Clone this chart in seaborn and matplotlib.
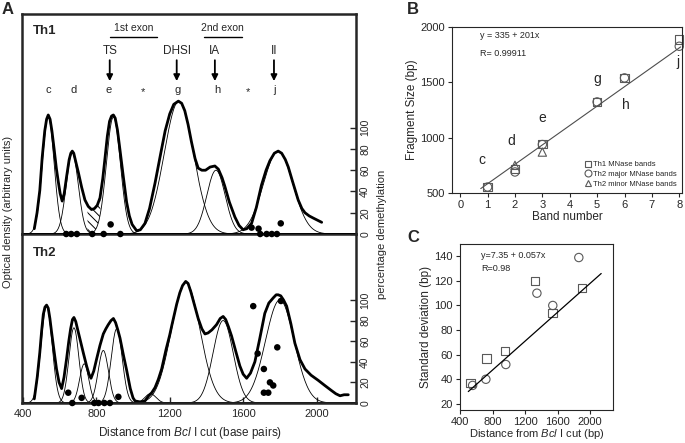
import numpy as np
import seaborn as sns
import matplotlib.pyplot as plt
from matplotlib.lines import Line2D

W, H = 685, 443

# ---------------- panel A: densitometry traces ----------------
th1_bp = [462, 477, 492, 505, 519, 529, 538, 548, 558, 570, 582, 592, 603, 614, 625, 638,
          652, 661, 669, 677, 688, 702, 720, 738, 756, 774, 790, 805, 820, 835, 847, 860,
          872, 883, 893, 903, 915, 929, 947, 965, 980, 995, 1020, 1040, 1065, 1090, 1120,
          1150, 1175, 1200, 1222, 1247, 1265, 1282, 1300, 1318, 1338, 1355, 1375, 1395,
          1420, 1446, 1465, 1485, 1500, 1525, 1555, 1578, 1600, 1620, 1646, 1672, 1700,
          1725, 1746, 1770, 1791, 1810, 1830, 1846, 1870, 1900, 1920, 1937, 1960, 1982,
          2005, 2028]
th1_od = [5, 20, 41, 72, 97, 108, 112, 108, 97, 80, 62, 50, 38, 31, 38, 54,
          70, 76, 78, 76, 68, 58, 44, 32, 26, 23, 24, 27, 34, 52, 71, 92,
          106, 111, 112, 109, 98, 79, 54, 30, 17, 9, 3, 4, 10, 24, 48,
          75, 97, 113, 122, 125, 123, 116, 103, 87, 71, 62, 60, 60,
          63, 64, 61, 53, 45, 30, 16, 8, 4, 5, 10, 25, 46,
          60, 69, 76, 78, 76, 70, 63, 49, 32, 24, 20, 17, 15,
          13, 11]

th2_bp = [462, 478, 492, 502, 511, 520, 529, 538, 547, 556, 570, 583, 597, 611, 624, 638,
          650, 660, 670, 678, 688, 700, 711, 730, 747, 760, 771, 786, 802, 820, 838, 852,
          865, 880, 893, 905, 917, 929, 947, 965, 985, 1000, 1011, 1040, 1065, 1085, 1102,
          1120, 1138, 1156, 1180, 1200, 1211, 1238, 1255, 1270, 1287, 1300, 1315, 1335,
          1355, 1375, 1392, 1409, 1430, 1455, 1475, 1491, 1505, 1520, 1537, 1560, 1582,
          1600, 1619, 1640, 1664, 1690, 1718, 1740, 1764, 1780, 1791, 1805, 1820, 1837,
          1860, 1882, 1910, 1937, 1970, 2009, 2045, 2082, 2105, 2128, 2150, 2173]
th2_od = [4, 25, 49, 70, 86, 93, 95, 92, 82, 69, 50, 33, 20, 14, 25, 43,
          60, 72, 81, 83, 79, 70, 62, 48, 36, 28, 24, 31, 43, 56, 67, 72,
          76, 80, 82, 78, 71, 63, 47, 32, 14, 5, 2, 1, 2, 7, 10,
          15, 23, 33, 52, 66, 75, 96, 107, 114, 118, 116, 108, 95,
          82, 72, 67, 68, 71, 76, 82, 84, 81, 74, 65, 50, 36,
          28, 24, 29, 40, 62, 87, 97, 102, 105, 105, 104, 100, 94,
          77, 58, 42, 33, 27, 22, 17, 12, 9, 7, 8, 8]

# fitted gaussian components: centre, height, standard deviation
th1_center = [538, 669, 893, 1250, 1452, 1791]
th1_height = [110, 76, 110, 125, 60, 78]
th1_sd = [32, 33, 38, 80, 50, 80]

th2_center = [529, 678, 734, 838, 911, 1095, 1287, 1491, 1800]
th2_height = [94, 73, 38, 51, 72, 9, 117, 80, 100]
th2_sd = [30, 27, 25, 28, 30, 30, 78, 55, 78]

# percentage demethylation dots
th1_dot_bp = [636, 663, 694, 778, 840, 878, 931, 1646, 1684, 1693, 1728, 1756, 1784, 1805]
th1_dot_pct = [0, 0, 0, 0, 0, 9, 0, 6, 5, 0, 0, 0, 0, 10]
th2_dot_bp = [647, 669, 720, 789, 812, 844, 874, 920, 1655, 1679, 1713, 1786, 1746,
              1764, 1713, 1737, 1806]
th2_dot_pct = [10, 0, 5, 0, 0, 0, 0, 6, 94, 48, 33, 54, 20, 17, 10, 10, 99]

band_letters = ["c", "d", "e", "*", "g", "h", "*", "j"]
band_letter_bp = [537, 676, 867, 1053, 1243, 1461, 1626, 1773]
site_names = ["TS", "DHSI", "IA", "II"]
site_bp = [873, 1238, 1446, 1768]
exon_names = ["1st exon", "2nd exon"]
exon_start = [873, 1386]
exon_end = [1129, 1593]

# ---------------- panel B: band calibration ----------------
b_th1_band = [1, 2, 3, 5, 6, 8]
b_th1_size = [552, 715, 940, 1323, 1540, 1887]
b_maj_band = [1, 2, 3, 5, 6, 8]
b_maj_size = [554, 690, 938, 1323, 1540, 1826]
b_min_band = [2, 3]
b_min_size = [750, 870]
b_fit_x = [0.75, 8.05]
b_fit_y = [540, 1820]
b_letters = ["c", "d", "e", "g", "h", "j"]
b_letter_x = [0.79, 1.88, 3.0, 4.99, 6.06, 7.94]
b_letter_y = [796, 970, 1182, 1534, 1293, 1684]

# ---------------- panel C: peak width vs distance ----------------
c_th1_dist = [531, 727, 951, 1320, 1535, 1900]
c_th1_sd = [37, 57, 63, 120, 94, 114]
c_th2_dist = [555, 718, 963, 1345, 1540, 1860]
c_th2_sd = [35, 40, 52, 110, 100, 139]
c_fit_x = [502, 2135]
c_fit_y = [30, 126]


def gauss(x, c, a, s):
    return a * np.exp(-0.5 * ((x - c) / s) ** 2)


def px_axes(fig, left, top, right, bottom):
    return fig.add_axes([left / W, 1 - bottom / H, (right - left) / W, (bottom - top) / H])


sns.set_style("white")
plt.rcParams["font.family"] = ["Liberation Sans", "DejaVu Sans"]
plt.rcParams["mathtext.fontset"] = "custom"
plt.rcParams["mathtext.rm"] = "Liberation Sans"
plt.rcParams["mathtext.it"] = "Liberation Sans:italic"
plt.rcParams["hatch.linewidth"] = 0.7

fig = plt.figure(figsize=(W / 100, H / 100), dpi=100)

ax_bot = px_axes(fig, 22, 234, 356, 403)
ax_top = px_axes(fig, 22, 14, 356, 234)
ax_top.set_zorder(3)
ax_top.patch.set_visible(False)

xgrid = np.linspace(395, 2215, 700)


def draw_trace(ax, bp, od, centers, heights, sds, dot_bp, dot_pct):
    for c, a, s in zip(centers, heights, sds):
        ax.plot(xgrid, gauss(xgrid, c, a, s), color="black", lw=0.6)
    sns.lineplot(x=bp, y=od, ax=ax, color="black", lw=2.0, sort=False)
    sns.scatterplot(x=dot_bp, y=dot_pct, ax=ax, color="black", s=22, edgecolor="none",
                    clip_on=False, zorder=5)
    ax.set_xlim(395, 2215)
    ax.yaxis.tick_right()
    ax.set_yticks(range(0, 101, 20))
    ax.tick_params(axis="y", direction="in", length=4, width=1, labelsize=7.5, pad=3,
                   left=False, right=True)
    for lbl in ax.get_yticklabels():
        lbl.set_rotation(90)
        lbl.set_va("center")
    for sp in ax.spines.values():
        sp.set_linewidth(1.8)


draw_trace(ax_top, th1_bp, th1_od, th1_center, th1_height, th1_sd, th1_dot_bp, th1_dot_pct)
draw_trace(ax_bot, th2_bp, th2_od, th2_center, th2_height, th2_sd, th2_dot_bp, th2_dot_pct)
ax_top.set_ylim(0, 207)
ax_bot.set_ylim(0, 164)
ax_top.spines["bottom"].set_visible(False)
ax_top.set_xticks([])
ax_bot.set_xticks(range(400, 2001, 400))
ax_bot.tick_params(axis="x", direction="in", length=4, width=1, labelsize=8, pad=4,
                   bottom=True)

# hatched area between d and e
hx = np.linspace(752, 822, 60)
thin_max = np.maximum(gauss(hx, th1_center[1], th1_height[1], th1_sd[1]),
                      gauss(hx, th1_center[2], th1_height[2], th1_sd[2]))
thick_h = np.interp(hx, th1_bp, th1_od)
ax_top.fill_between(hx, thin_max, thick_h, where=thick_h > thin_max, facecolor="none",
                    edgecolor="black", hatch="\\\\\\\\", lw=0)

tr = ax_top.get_xaxis_transform()
for lab, x in zip(band_letters, band_letter_bp):
    ax_top.text(x, 0.645 if lab == "*" else 0.655, lab, transform=tr, ha="center",
                va="center", fontsize=8)
for lab, x in zip(site_names, site_bp):
    ax_top.text(x, 0.83, lab, transform=tr, ha="center", va="center", fontsize=8.5)
    ax_top.annotate("", xy=(x, 0.695), xytext=(x, 0.79), xycoords=tr, textcoords=tr,
                    arrowprops=dict(arrowstyle="-|>", color="black", lw=1.3,
                                    mutation_scale=9, shrinkA=0, shrinkB=0))
for lab, x0, x1 in zip(exon_names, exon_start, exon_end):
    ax_top.plot([x0, x1], [0.895, 0.895], transform=tr, color="black", lw=1.0)
    ax_top.text((x0 + x1) / 2, 0.935, lab, transform=tr, ha="center", va="center",
                fontsize=7.5)
ax_top.text(455, 0.925, "Th1", transform=tr, ha="left", va="center", fontsize=9.5,
            fontweight="bold")
ax_bot.text(455, 0.885, "Th2", transform=ax_bot.get_xaxis_transform(), ha="left",
            va="center", fontsize=9.5, fontweight="bold")

fig.text(8 / W, 1 - 212 / H, "Optical density (arbitrary units)", rotation=90,
         ha="center", va="center", fontsize=8)
fig.text(382 / W, 1 - 234 / H, "percentage demethylation", rotation=90, ha="center",
         va="center", fontsize=8)
fig.text(190 / W, 1 - 433 / H, "Distance from $\\it{Bcl}$ I cut (base pairs)",
         ha="center", va="center", fontsize=8.5)
fig.text(2 / W, 1 - 9 / H, "A", ha="left", va="center", fontsize=12, fontweight="bold")

# ---------------- panel B ----------------
ax_b = px_axes(fig, 452, 27, 682, 193)
sns.lineplot(x=b_fit_x, y=b_fit_y, ax=ax_b, color="0.3", lw=0.8)
sns.scatterplot(x=b_th1_band, y=b_th1_size, ax=ax_b, marker="s", s=36,
                facecolor="none", edgecolor="0.35", linewidth=0.8, clip_on=False)
sns.scatterplot(x=b_maj_band, y=b_maj_size, ax=ax_b, marker="o", s=36,
                facecolor="none", edgecolor="0.35", linewidth=0.8, clip_on=False)
sns.scatterplot(x=b_min_band, y=b_min_size, ax=ax_b, marker="^", s=36,
                facecolor="none", edgecolor="0.35", linewidth=0.8, clip_on=False)
for lab, x, y in zip(b_letters, b_letter_x, b_letter_y):
    ax_b.text(x, y, lab, ha="center", va="center", fontsize=10)
ax_b.set_xlim(-0.3, 8.1)
ax_b.set_ylim(500, 2000)
ax_b.set_xticks(range(0, 9))
ax_b.set_yticks(range(500, 2001, 500))
ax_b.set_xlabel("Band number", fontsize=8.5, labelpad=1)
ax_b.set_ylabel("Fragment Size (bp)", fontsize=8.5, labelpad=2)
ax_b.tick_params(direction="out", length=3, width=0.8, labelsize=8, pad=2,
                 bottom=True, left=True)
for sp in ax_b.spines.values():
    sp.set_linewidth(0.8)
ax_b.text(0.12, 0.95, "y = 335 + 201x", transform=ax_b.transAxes, fontsize=6.5,
          ha="left", va="center")
ax_b.text(0.12, 0.84, "R= 0.99911", transform=ax_b.transAxes, fontsize=6.5,
          ha="left", va="center")
handles = [Line2D([], [], marker=m, ls="none", mfc="none", mec="0.35", ms=5, mew=0.8)
           for m in ["s", "o", "^"]]
ax_b.legend(handles, ["Th1 MNase bands", "Th2 major MNase bands", "Th2 minor MNase bands"],
            loc="lower right", frameon=False, fontsize=5.5, handletextpad=0.1,
            handlelength=1.0, borderaxespad=0.3, labelspacing=0.3)
fig.text(407 / W, 1 - 9 / H, "B", ha="left", va="center", fontsize=12, fontweight="bold")

# ---------------- panel C ----------------
ax_c = px_axes(fig, 460, 244, 613, 410)
sns.lineplot(x=c_fit_x, y=c_fit_y, ax=ax_c, color="black", lw=0.9)
sns.scatterplot(x=c_th1_dist, y=c_th1_sd, ax=ax_c, marker="s", s=36,
                facecolor="none", edgecolor="0.35", linewidth=0.8)
sns.scatterplot(x=c_th2_dist, y=c_th2_sd, ax=ax_c, marker="o", s=36,
                facecolor="none", edgecolor="0.35", linewidth=0.8)
ax_c.set_xlim(400, 2280)
ax_c.set_ylim(15, 150)
ax_c.set_xticks(range(400, 2001, 400))
ax_c.set_yticks(range(20, 141, 20))
ax_c.set_xlabel("Distance from $\\it{Bcl}$ I cut (bp)", fontsize=8, labelpad=0)
ax_c.set_ylabel("Standard deviation (bp)", fontsize=8.5, labelpad=2)
ax_c.tick_params(direction="out", length=3, width=0.8, labelsize=8, pad=2,
                 bottom=True, left=True)
for sp in ax_c.spines.values():
    sp.set_linewidth(0.8)
ax_c.text(0.14, 0.93, "y=7.35 + 0.057x", transform=ax_c.transAxes, fontsize=6.5,
          ha="left", va="center")
ax_c.text(0.14, 0.85, "R=0.98", transform=ax_c.transAxes, fontsize=6.5,
          ha="left", va="center")
fig.text(407 / W, 1 - 238 / H, "C", ha="left", va="center", fontsize=12, fontweight="bold")

fig.savefig("out.png", dpi=100)
